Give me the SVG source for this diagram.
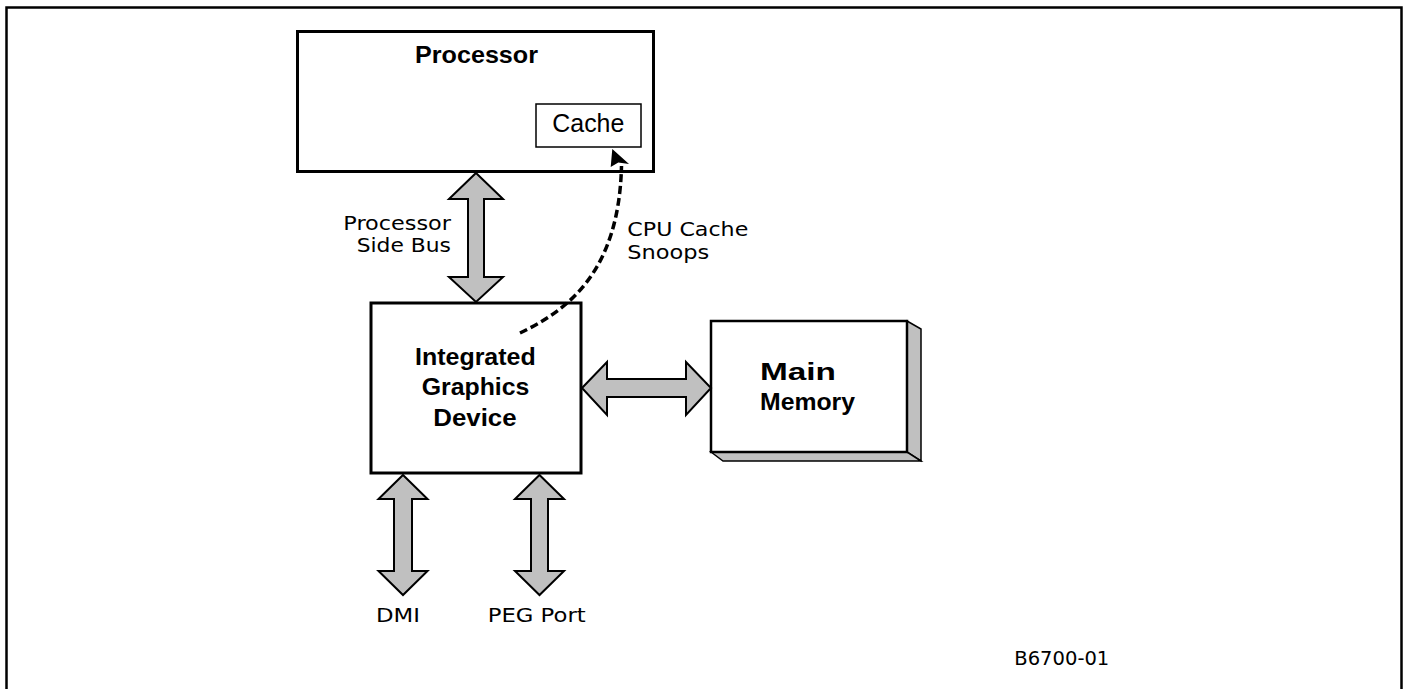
<svg xmlns="http://www.w3.org/2000/svg" width="1406" height="689" viewBox="0 0 1406 689">
<style>
.box{fill:#fff;stroke:#000;stroke-width:3}
.thin{fill:#fff;stroke:#000;stroke-width:1.5}
.bus{fill:#c0c0c0;stroke:#000;stroke-width:2;stroke-linejoin:miter}
.face{fill:#c0c0c0;stroke:#000;stroke-width:1.5;stroke-linejoin:miter}
.b{font-family:"Liberation Sans",Arial,sans-serif;font-weight:bold;font-size:24px;fill:#000}
.a{font-family:"Liberation Sans",Arial,sans-serif;font-size:25px;fill:#000}
.v{font-family:"DejaVu Sans",Verdana,sans-serif;font-size:20px;fill:#000}
</style>
<g id="frame"><path d="M6.5,689 V7.5 H1401.5 V689" fill="none" stroke="#000" stroke-width="2.5"/></g>
<g id="processor">
<rect class="box" x="297.5" y="31.5" width="356" height="140"/>
<text class="b" x="415" y="63" textLength="123" lengthAdjust="spacingAndGlyphs">Processor</text>
</g>
<g id="cache">
<rect class="thin" x="536" y="104" width="105" height="43"/>
<text class="a" x="552.3" y="131.7" textLength="72" lengthAdjust="spacingAndGlyphs">Cache</text>
</g>
<g id="igd">
<rect class="box" x="371" y="303" width="210" height="170"/>
<text class="b" x="415" y="365" textLength="120.7" lengthAdjust="spacingAndGlyphs">Integrated</text>
<text class="b" x="421.7" y="395" textLength="107.7" lengthAdjust="spacingAndGlyphs">Graphics</text>
<text class="b" x="433.3" y="425.5" textLength="83.3" lengthAdjust="spacingAndGlyphs">Device</text>
</g>
<g id="memory">
<polygon class="face" points="907,321 921,329 921,461 907,452"/>
<polygon class="face" points="711,452 723,461 921,461 907,452"/>
<rect class="box" x="711" y="321" width="196" height="131" style="stroke-width:2.5"/>
<text class="b" x="760" y="380" textLength="76" lengthAdjust="spacingAndGlyphs">Main</text>
<text class="b" x="760" y="410" textLength="95" lengthAdjust="spacingAndGlyphs">Memory</text>
</g>
<g id="connectors">
<polygon class="bus" points="476,173 503,199 484,199 484,277 503,277 476,302 449,277 468,277 468,199 449,199"/>
<polygon class="bus" points="582,388 607,362 607,379 686,379 686,362 711,388 686,415 686,397 607,397 607,415"/>
<polygon class="bus" points="403,475 427.5,499 412,499 412,571 427.5,571 403,595 378.5,571 394,571 394,499 378.5,499"/>
<polygon class="bus" points="539.5,475 564,499 548,499 548,571 564,571 539.5,595 515,571 531,571 531,499 515,499"/>
<path d="M520,333 C568,310 619,272 621.5,166" fill="none" stroke="#000" stroke-width="3.5" stroke-dasharray="8,4"/>
<polygon points="612.3,149 629,164 618.3,162.5 610.7,167" fill="#000"/>
</g>
<g id="labels">
<text class="v" x="343.3" y="230" textLength="107.7" lengthAdjust="spacingAndGlyphs">Processor</text>
<text class="v" x="356.7" y="252" textLength="94.3" lengthAdjust="spacingAndGlyphs">Side Bus</text>
<text class="v" x="627.3" y="236" textLength="121" lengthAdjust="spacingAndGlyphs">CPU Cache</text>
<text class="v" x="627.3" y="259.3" textLength="82" lengthAdjust="spacingAndGlyphs">Snoops</text>
<text class="v" x="376" y="622.3" textLength="44" lengthAdjust="spacingAndGlyphs">DMI</text>
<text class="v" x="487.7" y="622.3" textLength="98" lengthAdjust="spacingAndGlyphs">PEG Port</text>
<text class="v" x="1014.3" y="665" textLength="95" lengthAdjust="spacingAndGlyphs" style="font-size:19px">B6700-01</text>
</g>
</svg>
